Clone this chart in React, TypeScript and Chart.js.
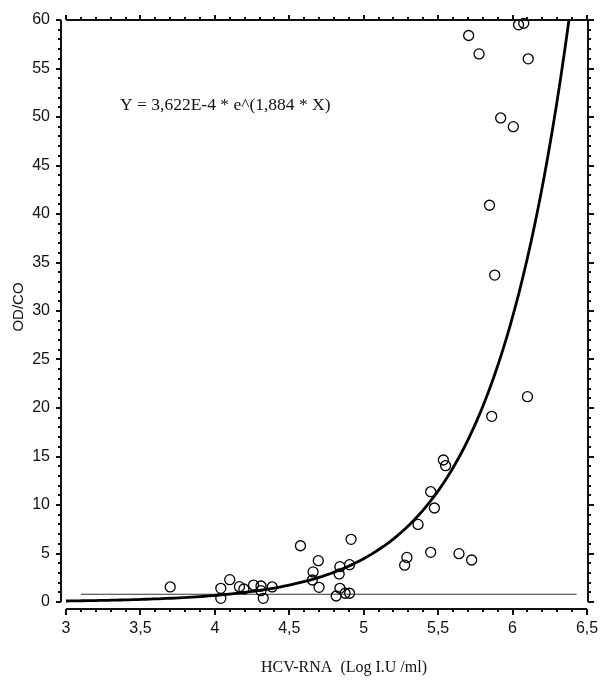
import React, { useEffect, useRef } from "react";
import { Chart, registerables } from "chart.js";

Chart.register(...registerables);

// ---- data ----
const xTickValues = [3, 3.5, 4, 4.5, 5, 5.5, 6, 6.5];
const yTickValues = [0, 5, 10, 15, 20, 25, 30, 35, 40, 45, 50, 55, 60];

const hcvRna = [
  3.70, 4.04, 4.04, 4.10, 4.165, 4.195, 4.26, 4.31, 4.31, 4.325, 4.385,
  4.575, 4.695, 4.66, 4.655, 4.70, 4.84, 4.835, 4.905, 4.915, 4.84, 4.815,
  4.875, 4.905, 5.275, 5.29, 5.365, 5.45, 5.45, 5.475, 5.535, 5.55, 5.64,
  5.725, 5.86, 6.10, 5.845, 5.88, 5.92, 6.005, 5.705, 5.775, 6.105, 6.04, 6.075,
];
const odco = [
  1.55, 1.41, 0.38, 2.3, 1.58, 1.34, 1.75, 1.65, 1.17, 0.38, 1.55,
  5.8, 4.26, 3.1, 2.27, 1.51, 3.64, 2.89, 3.85, 6.46, 1.41, 0.62,
  0.9, 0.9, 3.8, 4.6, 8.0, 11.37, 5.12, 9.69, 14.64, 14.05, 4.98,
  4.33, 19.14, 21.17, 40.9, 33.7, 49.9, 49.0, 58.4, 56.5, 56.0, 59.5, 59.66,
];

// fitted curve shown in the chart: Y = 3,622E-4 * e^(1,884 * X)
const fitA = 3.622e-4;
const fitB = 1.884;
const fitStartX = 3;

// cut-off line
const cutoffX = [3.1, 6.43];
const cutoffY = 0.8;

const equationText = "Y = 3,622E-4 * e^(1,884 * X)";
const xTitle = "HCV-RNA  (Log I.U /ml)";
const yTitle = "OD/CO";

const X_MIN = 3;
const X_MAX = 6.5;
const Y_MIN = 0;
const Y_MAX = 60;

function buildCurve() {
  const pts: { x: number; y: number }[] = [];
  const xEnd = Math.log(Y_MAX / fitA) / fitB;
  const n = 120;
  for (let i = 0; i <= n; i++) {
    const x = fitStartX + ((xEnd - fitStartX) * i) / n;
    pts.push({ x, y: fitA * Math.exp(fitB * x) });
  }
  return pts;
}

const axesPlugin = {
  id: "frameAxes",
  afterDraw(chart: any) {
    const { ctx, chartArea: ca } = chart;
    const xs = chart.scales.x;
    const ys = chart.scales.y;
    ctx.save();
    ctx.strokeStyle = "#111";
    ctx.fillStyle = "#111";
    ctx.lineWidth = 2;
    const line = (x1: number, y1: number, x2: number, y2: number) => {
      ctx.beginPath();
      ctx.moveTo(x1, y1);
      ctx.lineTo(x2, y2);
      ctx.stroke();
    };
    const yTop = ys.getPixelForValue(Y_MAX);
    const yBot = ys.getPixelForValue(Y_MIN);
    const xL = xs.getPixelForValue(X_MIN);
    const xR = xs.getPixelForValue(X_MAX);

    // left axis (offset)
    const lx = Math.round(ca.left - 5);
    line(lx, yTop, lx, yBot);
    // right axis
    const rx = Math.round(ca.right + 1);
    line(rx, yTop, rx, yBot);
    for (let i = 0; i <= 60; i++) {
      const py = Math.round(ys.getPixelForValue(i));
      const major = i % 5 === 0;
      line(lx - (major ? 5 : 3), py, lx, py);
      line(rx, py, rx + (major ? 6 : 3), py);
    }
    // top axis
    const ty = Math.round(ca.top);
    line(xL, ty, xR + 1, ty);
    // bottom axis (offset)
    const by = Math.round(ca.bottom + 7);
    line(xL, by, xR, by);
    for (let i = 0; i <= 35; i++) {
      const px = Math.round(xs.getPixelForValue(3 + i * 0.1));
      const major = i % 5 === 0;
      line(px, ty - (major ? 5 : 3), px, ty);
      line(px, by, px, by + (major ? 6 : 3));
    }

    // equation text
    ctx.font = "17.5px 'Liberation Serif'";
    ctx.textAlign = "left";
    ctx.textBaseline = "alphabetic";
    ctx.fillText(equationText, xs.getPixelForValue(3.363), ys.getPixelForValue(50.7));

    // x title
    ctx.font = "16px 'Liberation Serif'";
    ctx.textAlign = "center";
    ctx.fillText(xTitle, 344, 672);

    // y title
    ctx.save();
    ctx.translate(23, 307);
    ctx.rotate(-Math.PI / 2);
    ctx.font = "15px 'Liberation Sans'";
    ctx.textAlign = "center";
    ctx.textBaseline = "alphabetic";
    ctx.fillText(yTitle, 0, 0);
    ctx.restore();

    ctx.restore();
  },
};

export default function App() {
  const ref = useRef<HTMLCanvasElement | null>(null);
  useEffect(() => {
    document.body.style.margin = "0";
    const canvas = ref.current;
    if (!canvas) return;
    const points = hcvRna.map((x, i) => ({ x, y: odco[i] }));
    const chart = new Chart(canvas, {
      type: "scatter",
      data: {
        datasets: [
          {
            type: "line",
            label: "cutoff",
            data: cutoffX.map((x) => ({ x, y: cutoffY })),
            borderColor: "#333",
            borderWidth: 1.2,
            pointRadius: 0,
            fill: false,
            clip: false,
            order: 3,
          } as any,
          {
            type: "line",
            label: "fit",
            data: buildCurve(),
            borderColor: "#000",
            borderWidth: 2.8,
            pointRadius: 0,
            fill: false,
            tension: 0,
            clip: false,
            order: 2,
          } as any,
          {
            type: "scatter",
            label: "samples",
            data: points,
            pointStyle: "circle",
            pointRadius: 5,
            borderWidth: 1.3,
            borderColor: "#000",
            backgroundColor: "rgba(0,0,0,0)",
            clip: false,
            order: 1,
          } as any,
        ],
      },
      options: {
        responsive: false,
        animation: false,
        devicePixelRatio: 1,
        layout: { padding: { top: 20, right: 22, left: 0, bottom: 0 } },
        plugins: {
          legend: { display: false },
          tooltip: { enabled: false },
        },
        scales: {
          x: {
            type: "linear",
            min: X_MIN,
            max: X_MAX,
            afterFit: (s: any) => {
              s.height = 87;
              s.paddingLeft = 0;
              s.paddingRight = 12;
            },
            afterBuildTicks: (s: any) => {
              s.ticks = xTickValues.map((v) => ({ value: v }));
            },
            grid: { display: false, drawTicks: false },
            border: { display: false },
            ticks: {
              padding: 17,
              color: "#111",
              font: { family: "'Liberation Sans'", size: 16 },
              maxRotation: 0,
              autoSkip: false,
              callback: (v: any) => String(v).replace(".", ","),
            },
          },
          y: {
            type: "linear",
            min: Y_MIN,
            max: Y_MAX,
            afterFit: (s: any) => {
              s.width = 66;
              s.paddingTop = 10;
              s.paddingBottom = 10;
            },
            afterBuildTicks: (s: any) => {
              s.ticks = yTickValues.map((v) => ({ value: v }));
            },
            grid: { display: false, drawTicks: false },
            border: { display: false },
            ticks: {
              padding: 16,
              color: "#111",
              font: { family: "'Liberation Sans'", size: 16 },
              autoSkip: false,
              callback: (v: any) => String(v),
            },
          },
        },
      },
      plugins: [axesPlugin],
    } as any);
    return () => chart.destroy();
  }, []);
  return (
    <div style={{ width: 609, height: 689, background: "#fff" }}>
      <canvas ref={ref} width={609} height={689} style={{ display: "block" }} />
    </div>
  );
}
